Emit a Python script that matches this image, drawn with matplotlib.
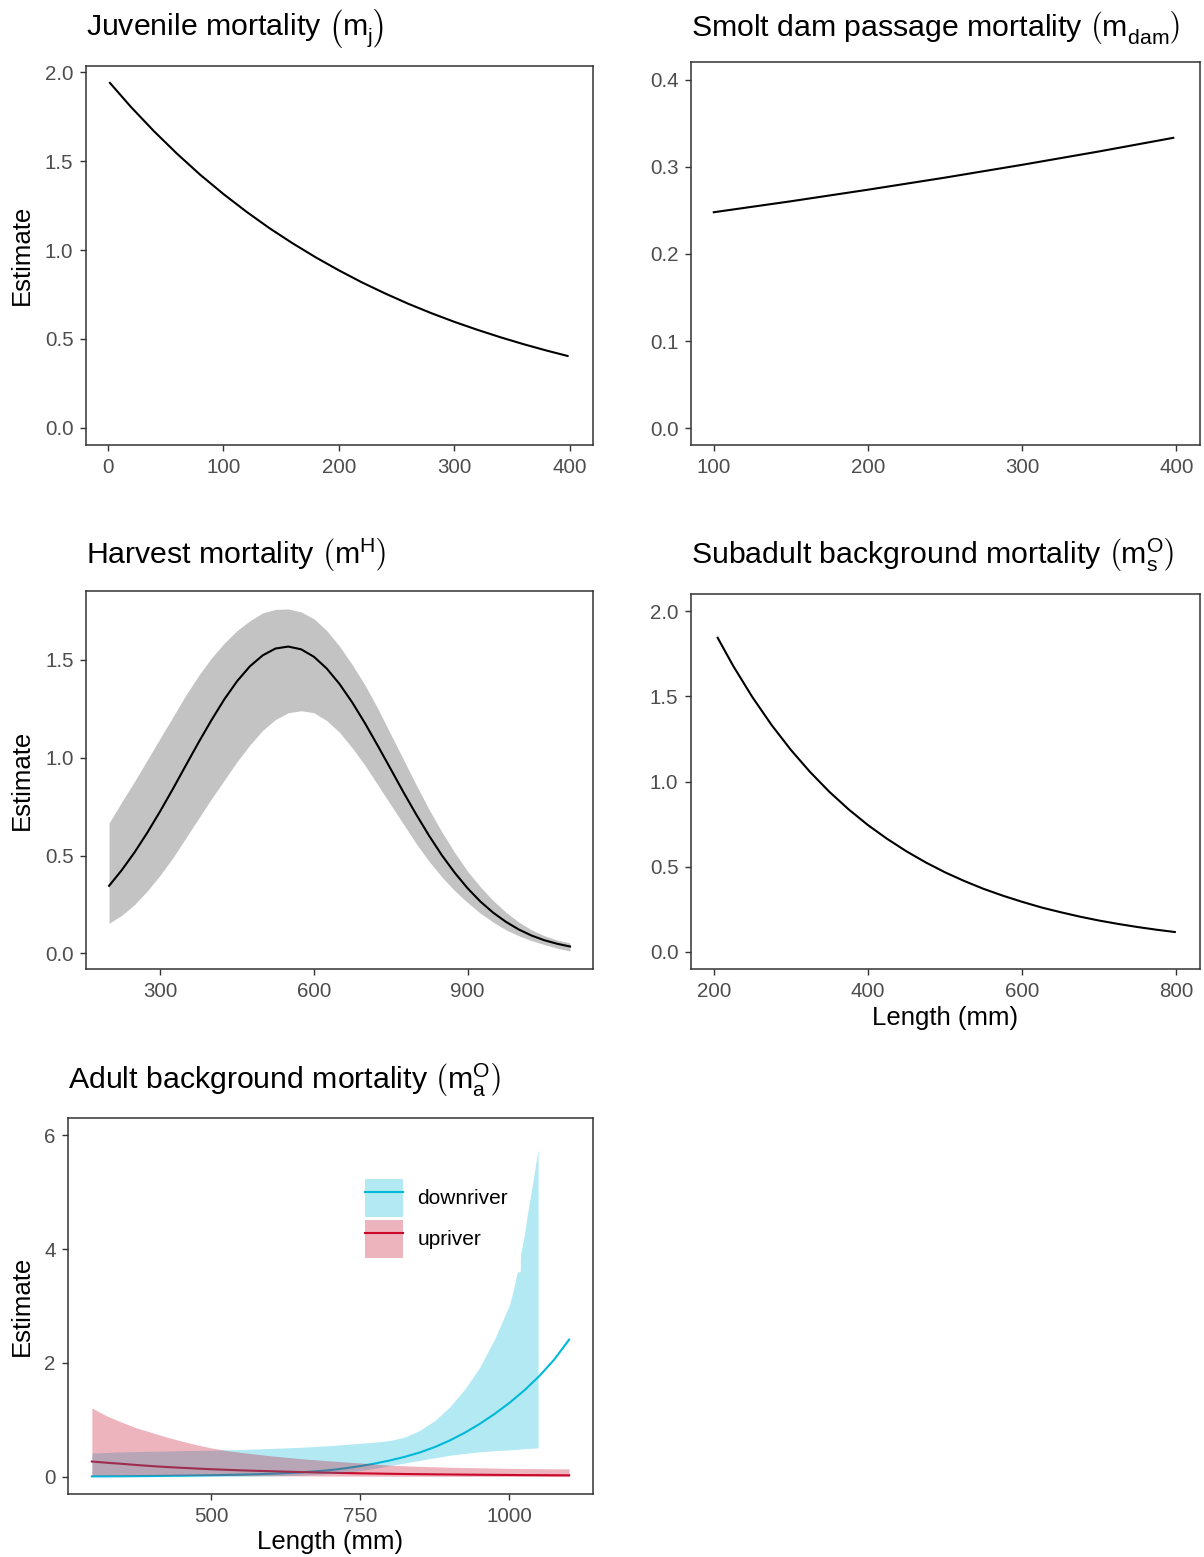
import matplotlib
matplotlib.use("Agg")
import matplotlib.pyplot as plt
from matplotlib.ticker import FormatStrFormatter
from matplotlib.patches import Patch
from matplotlib.lines import Line2D
from matplotlib.legend_handler import HandlerTuple

plt.rcParams['font.family'] = ['Liberation Sans', 'DejaVu Sans']
plt.rcParams['mathtext.fontset'] = 'custom'
plt.rcParams['mathtext.rm'] = 'Liberation Sans'
plt.rcParams['mathtext.it'] = 'Liberation Sans:italic'
plt.rcParams['mathtext.bf'] = 'Liberation Sans:bold'

# --- data ---
# juvenile mortality vs length
juv_len = [2, 20, 40, 60, 80, 100, 120, 140, 160, 180, 200, 220, 240, 260, 280, 300,
           320, 340, 360, 380, 398]
juv_est = [1.940, 1.806, 1.669, 1.542, 1.424, 1.316, 1.216, 1.123, 1.038, 0.959, 0.886,
           0.818, 0.756, 0.698, 0.645, 0.596, 0.551, 0.509, 0.470, 0.434, 0.404]

# smolt dam passage mortality
dam_len = [100, 150, 200, 250, 300, 350, 398]
dam_est = [0.248, 0.2606, 0.2739, 0.2878, 0.3025, 0.3179, 0.3335]

# harvest mortality with interval
harv_len = [200, 225, 250, 275, 300, 325, 350, 375, 400, 425, 450, 475, 500, 525, 550,
            575, 600, 625, 650, 675, 700, 725, 750, 775, 800, 825, 850, 875, 900, 925,
            950, 975, 1000, 1025, 1050, 1075, 1100]
harv_est = [0.345, 0.426, 0.517, 0.618, 0.727, 0.842, 0.961, 1.079, 1.192, 1.298, 1.391,
            1.467, 1.523, 1.558, 1.568, 1.554, 1.516, 1.456, 1.377, 1.282, 1.175, 1.060,
            0.942, 0.823, 0.709, 0.601, 0.501, 0.412, 0.333, 0.265, 0.208, 0.161, 0.122,
            0.091, 0.067, 0.049, 0.035]
harv_lo = [0.154, 0.195, 0.25, 0.32, 0.40, 0.49, 0.59, 0.69, 0.79, 0.885, 0.98, 1.065,
           1.14, 1.195, 1.23, 1.24, 1.23, 1.19, 1.13, 1.05, 0.96, 0.86, 0.76, 0.66, 0.56,
           0.47, 0.39, 0.32, 0.26, 0.205, 0.16, 0.12, 0.09, 0.065, 0.045, 0.027, 0.012]
harv_hi = [0.666, 0.775, 0.88, 0.99, 1.10, 1.21, 1.32, 1.42, 1.51, 1.585, 1.65, 1.70,
           1.74, 1.758, 1.76, 1.745, 1.71, 1.65, 1.57, 1.475, 1.37, 1.25, 1.12, 0.99, 0.86,
           0.735, 0.62, 0.515, 0.42, 0.34, 0.27, 0.21, 0.16, 0.12, 0.09, 0.068, 0.053]

# subadult background mortality
sub_len = [205, 225, 250, 275, 300, 325, 350, 375, 400, 425, 450, 475, 500, 525, 550,
           575, 600, 625, 650, 675, 700, 725, 750, 775, 798]
sub_est = [1.843, 1.679, 1.495, 1.331, 1.185, 1.055, 0.939, 0.836, 0.744, 0.663, 0.590,
           0.525, 0.467, 0.416, 0.370, 0.330, 0.294, 0.261, 0.233, 0.207, 0.184, 0.164,
           0.146, 0.130, 0.117]

# adult background mortality, by river group
adult_len = [300, 325, 350, 375, 400, 425, 450, 475, 500, 525, 550, 575, 600, 625, 650,
             675, 700, 725, 750, 775, 800, 825, 850, 875, 900, 925, 950, 975, 1000, 1025,
             1050, 1075, 1100]
down_est = [0.010, 0.011, 0.012, 0.014, 0.016, 0.019, 0.022, 0.026, 0.030, 0.035, 0.040,
            0.047, 0.055, 0.066, 0.080, 0.098, 0.120, 0.152, 0.190, 0.236, 0.290, 0.354,
            0.430, 0.525, 0.640, 0.775, 0.930, 1.105, 1.300, 1.520, 1.770, 2.060, 2.410]
up_est = [0.270, 0.249, 0.230, 0.209, 0.190, 0.174, 0.160, 0.147, 0.135, 0.125, 0.115,
          0.107, 0.100, 0.092, 0.085, 0.079, 0.073, 0.068, 0.063, 0.059, 0.055, 0.051,
          0.048, 0.045, 0.043, 0.040, 0.038, 0.036, 0.034, 0.032, 0.031, 0.029, 0.028]
up_lo = [0.030, 0.030, 0.029, 0.029, 0.028, 0.027, 0.026, 0.025, 0.024, 0.023, 0.022,
         0.021, 0.020, 0.019, 0.018, 0.017, 0.016, 0.015, 0.014, 0.013, 0.012, 0.0115,
         0.011, 0.0105, 0.010, 0.0095, 0.009, 0.0085, 0.008, 0.0075, 0.007, 0.0065, 0.006]
up_hi = [1.21, 1.07, 0.96, 0.86, 0.78, 0.70, 0.63, 0.565, 0.51, 0.465, 0.43, 0.40, 0.37,
         0.345, 0.32, 0.30, 0.28, 0.262, 0.245, 0.225, 0.205, 0.195, 0.185, 0.177, 0.17,
         0.165, 0.16, 0.155, 0.15, 0.147, 0.145, 0.142, 0.14]
down_band_len = [300, 325, 350, 375, 400, 425, 450, 475, 500, 525, 550, 575, 600, 625, 650,
                 675, 700, 725, 750, 775, 800, 825, 850, 875, 900, 925, 950, 975, 1000,
                 1005, 1010, 1013, 1018, 1018.5, 1025, 1030, 1035, 1040, 1044, 1048]
down_lo = [0.000, 0.0005, 0.001, 0.0015, 0.002, 0.003, 0.004, 0.005, 0.007, 0.009, 0.011,
           0.014, 0.017, 0.022, 0.030, 0.043, 0.060, 0.082, 0.110, 0.150, 0.200, 0.245,
           0.290, 0.335, 0.380, 0.412, 0.440, 0.460, 0.475, 0.477, 0.480, 0.484, 0.490,
           0.490, 0.495, 0.500, 0.502, 0.505, 0.507, 0.510]
down_hi = [0.42, 0.43, 0.44, 0.445, 0.45, 0.455, 0.46, 0.465, 0.47, 0.475, 0.48, 0.49,
           0.50, 0.51, 0.52, 0.535, 0.55, 0.57, 0.59, 0.61, 0.64, 0.70, 0.82, 0.99, 1.23,
           1.54, 1.92, 2.42, 3.02, 3.22, 3.45, 3.60, 3.60, 3.90, 4.25, 4.61, 4.92, 5.23,
           5.50, 5.75]

group_names = ['downriver', 'upriver']
group_colors = ['#00B9D9', '#C9082A']

# --- figure ---
W, H = 1204, 1557
fig = plt.figure(figsize=(W / 100, H / 100), dpi=100)

EDGE = '#333333'
TICK_TXT = '#4D4D4D'
TICK_SIZE = 14.8
AXTITLE_SIZE = 18.5
TITLE_SIZE = 21.8
LW = 1.5


def panel(left, top, right, bottom):
    # axes box given in pixel coordinates from the top-left corner
    return fig.add_axes([left / W, 1 - bottom / H, (right - left) / W, (bottom - top) / H])


def style(ax, title, title_gap, left_px, width_px, ylabel=True):
    for s in ax.spines.values():
        s.set_color(EDGE)
        s.set_linewidth(1.1)
    ax.tick_params(direction='out', length=4.3, width=1.0, color=EDGE,
                   labelcolor=TICK_TXT, labelsize=TICK_SIZE)
    ax.tick_params(axis='x', pad=5)
    ax.tick_params(axis='y', pad=4.5)
    ax.set_title(title, loc='left', fontsize=TITLE_SIZE, pad=title_gap * 0.72)
    if ylabel:
        ax.set_ylabel('Estimate', fontsize=AXTITLE_SIZE, va='center')
        ax.yaxis.set_label_coords((22 - left_px) / width_px, 0.5)


def xlabel(ax, height_px, gap_px):
    ax.set_xlabel('Length (mm)', fontsize=AXTITLE_SIZE, va='center')
    ax.xaxis.set_label_coords(0.5, -gap_px / height_px)


# the empty raised kerns only stretch the brackets to full height
TALL = r'^{\,^{\,^{\,}}}'

# Juvenile mortality
ax1 = panel(85.7, 65.7, 593, 445)
ax1.plot(juv_len, juv_est, color='black', lw=LW)
ax1.set_xlim(-19, 420)
ax1.set_ylim(-0.097, 2.037)
ax1.set_xticks([0, 100, 200, 300, 400])
ax1.set_yticks([0.0, 0.5, 1.0, 1.5, 2.0])
ax1.yaxis.set_major_formatter(FormatStrFormatter('%.1f'))
style(ax1, r'Juvenile mortality $\left(\mathrm{m}_{\mathrm{j}}' + TALL + r'\!\right)$',
      30, 85.7, 507.3)

# Smolt dam passage mortality
ax2 = panel(690.7, 62.3, 1199.5, 445)
ax2.plot(dam_len, dam_est, color='black', lw=LW)
ax2.set_xlim(85, 415)
ax2.set_ylim(-0.0195, 0.4203)
ax2.set_xticks([100, 200, 300, 400])
ax2.set_yticks([0.0, 0.1, 0.2, 0.3, 0.4])
ax2.yaxis.set_major_formatter(FormatStrFormatter('%.1f'))
style(ax2, r'Smolt dam passage mortality $\left(\mathrm{m}_{\mathrm{dam}}' + TALL + r'\right)$',
      26.6, 690.7, 508.8, ylabel=False)

# Harvest mortality
ax3 = panel(86, 591, 593, 969)
ax3.fill_between(harv_len, harv_lo, harv_hi, color='#C3C3C3', lw=0)
ax3.plot(harv_len, harv_est, color='black', lw=LW)
ax3.set_xlim(155, 1145)
ax3.set_ylim(-0.08, 1.852)
ax3.set_xticks([300, 600, 900])
ax3.set_yticks([0.0, 0.5, 1.0, 1.5])
ax3.yaxis.set_major_formatter(FormatStrFormatter('%.1f'))
style(ax3, r'Harvest mortality $\left(\mathrm{m}_{\,}^{\mathrm{H}}\right)$', 27, 86, 507)

# Subadult background mortality
ax4 = panel(690.7, 594, 1199.5, 969)
ax4.plot(sub_len, sub_est, color='black', lw=LW)
ax4.set_xlim(170, 830)
ax4.set_ylim(-0.1, 2.1)
ax4.set_xticks([200, 400, 600, 800])
ax4.set_yticks([0.0, 0.5, 1.0, 1.5, 2.0])
ax4.yaxis.set_major_formatter(FormatStrFormatter('%.1f'))
style(ax4, r'Subadult background mortality $\left(\mathrm{m}_{\mathrm{s}}^{\mathrm{O}}\right)$', 30,
      690.7, 508.8, ylabel=False)
xlabel(ax4, 375, 49)

# Adult background mortality: lines first, ribbons laid over them
ax5 = panel(68, 1118, 593, 1494)
ax5.plot(adult_len, down_est, color=group_colors[0], lw=LW, zorder=2)
ax5.plot(adult_len, up_est, color=group_colors[1], lw=LW, zorder=2)
ax5.fill_between(down_band_len, down_lo, down_hi, color=group_colors[0], alpha=0.3, lw=0, zorder=3)
ax5.fill_between(adult_len, up_lo, up_hi, color=group_colors[1], alpha=0.3, lw=0, zorder=3)
ax5.set_xlim(260, 1140)
ax5.set_ylim(-0.3, 6.3)
ax5.set_xticks([500, 750, 1000])
ax5.set_yticks([0, 2, 4, 6])
style(ax5, r'Adult background mortality $\left(\mathrm{m}_{\mathrm{a}}^{\mathrm{O}}\right)$', 29, 68, 525)
xlabel(ax5, 376, 48)

handles = [(Patch(facecolor=c, alpha=0.3, lw=0), Line2D([], [], color=c, lw=LW))
           for c in group_colors]
leg = ax5.legend(handles, group_names, handler_map={tuple: HandlerTuple(ndivide=1, pad=0)},
                 loc='upper left', bbox_to_anchor=((365 - 68) / 525, (1494 - 1179) / 376),
                 frameon=False, fontsize=15, handlelength=1.82, handleheight=2.43,
                 labelspacing=0.145, handletextpad=0.7, borderpad=0, borderaxespad=0)

fig.savefig('out.png', dpi=100, facecolor='white')
